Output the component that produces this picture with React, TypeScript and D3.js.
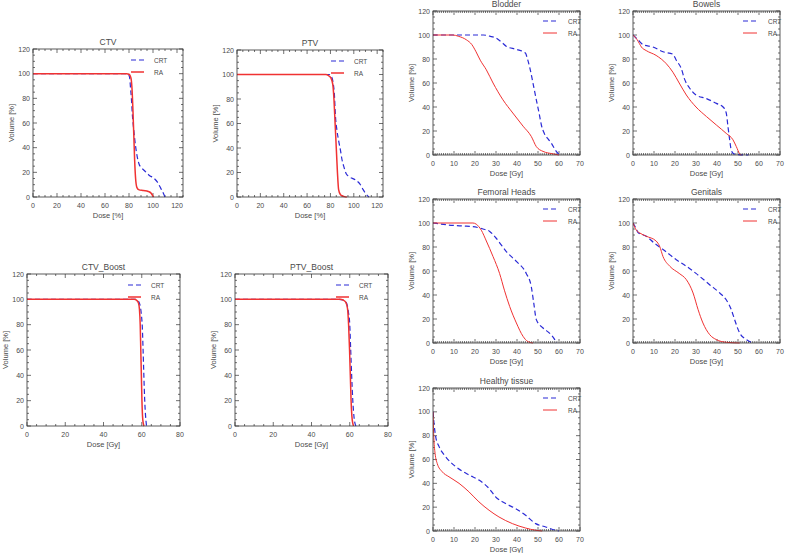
import * as d3 from "d3";

type Pt = [number, number];

// ---- data (dose, volume %) ----
const volumeTicks = [0, 20, 40, 60, 80, 100, 120];
const doseTicksPct = [0, 20, 40, 60, 80, 100, 120];
const doseTicksBoost = [0, 20, 40, 60, 80];
const doseTicksOar = [0, 10, 20, 30, 40, 50, 60, 70];
const legendLabels = ["CRT", "RA"];

const ctvCRT: Pt[] = [[0, 100], [79, 100], [80.5, 97], [81.3, 88], [82, 80], [82.7, 68], [84, 54], [85.5, 41], [86.8, 33], [88.3, 27], [90.5, 23.5], [92.5, 21.7], [96.7, 17.7], [101, 15], [103.7, 12], [106.5, 7], [108.8, 2.7], [110, 0]];
const ctvRA: Pt[] = [[0, 100], [78, 100], [80, 99.5], [81.5, 97], [82.5, 88], [83.3, 70], [84, 50], [84.7, 30], [85.5, 15], [86.5, 8], [88, 6], [92, 5.2], [96, 4.5], [98.5, 3], [99.5, 1.5], [100.5, 0]];

const ptvCRT: Pt[] = [[0, 100], [79, 100], [81, 98], [82.5, 92], [83.3, 85], [84.3, 66], [85.5, 55], [87, 46], [88.6, 38], [90, 30], [91.4, 25], [93.5, 19], [95.7, 16.8], [101.4, 14], [105.7, 10], [108, 6], [110, 3], [113, 0]];
const ptvRA: Pt[] = [[0, 100], [76, 100], [78.5, 99], [80.5, 97], [82, 92], [83, 80], [84, 60], [85, 40], [86, 20], [87, 6], [88.5, 2], [90, 1], [92, 0.3], [94, 0]];

const ctvBoostCRT: Pt[] = [[0, 100], [56.5, 100], [58, 99], [59, 96], [59.8, 88], [60.3, 78], [60.7, 60], [61.1, 40], [61.5, 22], [62, 8], [62.5, 0]];
const ctvBoostRA: Pt[] = [[0, 100], [56, 100], [57.5, 99], [58.3, 97], [58.8, 92], [59.2, 80], [59.5, 60], [59.8, 40], [60.1, 20], [60.4, 8], [60.8, 2], [61.2, 0]];

const ptvBoostCRT: Pt[] = [[0, 100], [54, 100], [56.5, 99.5], [58, 98], [59.3, 90], [60, 80], [60.5, 60], [61, 40], [61.6, 20], [62.3, 6], [63.2, 0]];
const ptvBoostRA: Pt[] = [[0, 100], [55, 100], [56.5, 99.5], [57.8, 98], [58.8, 93], [59.4, 80], [59.9, 60], [60.3, 40], [60.7, 20], [61.1, 8], [61.6, 2], [62, 0]];

const bladderCRT: Pt[] = [[0, 100], [10, 100], [20, 100], [24, 100], [27, 99], [30, 97.5], [33, 93.5], [35, 90.5], [39.7, 88], [44, 85], [45, 80], [46, 73.5], [47.6, 60], [49.2, 46], [50.5, 35], [51.6, 25], [53, 18], [54.5, 14], [56.3, 10], [58.7, 3], [60.3, 0]];
const bladderRA: Pt[] = [[0, 100], [9.5, 100], [12, 99], [15.9, 96], [18.5, 92], [20.5, 86], [22.5, 79], [25.4, 71], [28.6, 60], [33.3, 46], [38, 35], [42.9, 24], [46.8, 15.5], [49.2, 7], [52.4, 3], [57, 1], [60, 0]];

const bowelsCRT: Pt[] = [[0, 100], [2.4, 96], [4.8, 92], [9.5, 90], [14.3, 86], [19, 84], [20.6, 79], [23, 72], [24.6, 63], [27, 55.6], [30, 50], [35, 47], [39.7, 43], [42.9, 40], [44.4, 35], [45.2, 24], [46, 13], [46.8, 4], [48, 1], [50, 0.3], [55, 0]];
const bowelsRA: Pt[] = [[0, 100], [2, 96], [3, 93], [4, 90], [6.3, 87], [11, 83], [15.9, 76], [19, 69], [22, 60], [25.4, 50], [30, 40], [35, 32], [39.7, 25], [44.4, 18], [47.6, 12.7], [49.2, 7], [50.8, 1], [51.6, 0]];

const femoralCRT: Pt[] = [[0, 100], [9.5, 98], [14.3, 97.5], [19, 97], [23.8, 95], [27, 93], [30, 87.5], [35, 76], [39.7, 68], [44.4, 58], [46.8, 47], [48, 33], [49.2, 19.5], [52.4, 12.5], [55.6, 8], [57.9, 3], [58.7, 0]];
const femoralRA: Pt[] = [[0, 100], [19, 100], [20.6, 99], [23, 94], [25.4, 85], [28.6, 72], [31.7, 58], [34, 44], [36.5, 30.5], [39.7, 16.7], [42.9, 5.5], [45, 1.4], [47.6, 0]];

const genitalsCRT: Pt[] = [[0, 100], [1.6, 95], [2.4, 92], [6.3, 89], [10.3, 83], [14.3, 78], [20.6, 69.4], [25.4, 64], [30, 58], [36.5, 48.6], [41.3, 41.7], [44.4, 36], [46.8, 27.8], [48.4, 19.4], [50.8, 8.3], [54, 2.8], [57, 0]];
const genitalsRA: Pt[] = [[0, 100], [1.6, 94], [3.2, 91.7], [6.3, 89], [11, 85], [12.7, 80.5], [14.3, 72], [17.5, 64], [22, 58], [25.4, 52.8], [28.6, 41.7], [31, 27.8], [33.3, 16.7], [36.5, 7], [39.7, 2.8], [44.4, 0.6], [50.8, 0]];

const healthyCRT: Pt[] = [[0, 100], [0.5, 90], [1.3, 79], [2.9, 70.8], [6, 62.4], [10.8, 54], [17.1, 47], [21.9, 42.7], [26.7, 35.7], [29.8, 28.7], [34.6, 23], [39.4, 18.8], [44.1, 13.2], [48.9, 6.2], [53.7, 3.4], [58.4, 0.6], [60, 0]];
const healthyRA: Pt[] = [[0, 100], [0.3, 82], [1, 65], [2, 56.7], [4.4, 49.7], [7.6, 45.5], [12.4, 40], [17.1, 32.9], [21.9, 24.4], [26.7, 17.4], [31.4, 11.8], [37.8, 6.2], [44.1, 2.5], [48.9, 0.6], [52, 0]];

// ---- layout ----
type PanelDef = {
  id: string;
  title: string;
  unit: string;
  crt: Pt[];
  ra: Pt[];
  xMax: number;
  xTicks: number[];
  xMinor: number;
  box: [number, number, number, number]; // left, right, top, bottom
  wide: boolean; // left-column style legend
};

const panels: PanelDef[] = [
  { id: "ctv", title: "CTV", unit: "Dose [%]", crt: ctvCRT, ra: ctvRA, xMax: 125, xTicks: doseTicksPct, xMinor: 5, box: [33, 183, 49, 197], wide: true },
  { id: "ptv", title: "PTV", unit: "Dose [%]", crt: ptvCRT, ra: ptvRA, xMax: 125, xTicks: doseTicksPct, xMinor: 5, box: [237, 383, 50, 197], wide: true },
  { id: "ctvb", title: "CTV_Boost", unit: "Dose [Gy]", crt: ctvBoostCRT, ra: ctvBoostRA, xMax: 80, xTicks: doseTicksBoost, xMinor: 5, box: [27, 180, 274, 426], wide: true },
  { id: "ptvb", title: "PTV_Boost", unit: "Dose [Gy]", crt: ptvBoostCRT, ra: ptvBoostRA, xMax: 80, xTicks: doseTicksBoost, xMinor: 5, box: [235, 388, 274, 426], wide: true },
  { id: "bla", title: "Blodder", unit: "Dose [Gy]", crt: bladderCRT, ra: bladderRA, xMax: 70, xTicks: doseTicksOar, xMinor: 1, box: [433, 580, 11, 155], wide: false },
  { id: "bow", title: "Bowels", unit: "Dose [Gy]", crt: bowelsCRT, ra: bowelsRA, xMax: 70, xTicks: doseTicksOar, xMinor: 1, box: [633, 780, 11, 155], wide: false },
  { id: "fem", title: "Femoral Heads", unit: "Dose [Gy]", crt: femoralCRT, ra: femoralRA, xMax: 70, xTicks: doseTicksOar, xMinor: 1, box: [433, 580, 199, 343], wide: false },
  { id: "gen", title: "Genitals", unit: "Dose [Gy]", crt: genitalsCRT, ra: genitalsRA, xMax: 70, xTicks: doseTicksOar, xMinor: 1, box: [633, 780, 199, 343], wide: false },
  { id: "hea", title: "Healthy tissue", unit: "Dose [Gy]", crt: healthyCRT, ra: healthyRA, xMax: 70, xTicks: doseTicksOar, xMinor: 1, box: [433, 580, 388, 531], wide: false },
];

const BLUE = "#2b2bd6";
const RED = "#f03232";
const TEXT = "#4a4a4a";
const FONT = "'Liberation Sans', Arial, sans-serif";

function Panel({ p }: { p: PanelDef }) {
  const [left, right, top, bottom] = p.box;
  const x = d3.scaleLinear().domain([0, p.xMax]).range([left, right]);
  const y = d3.scaleLinear().domain([0, 120]).range([bottom, top]);
  const line = d3
    .line<Pt>()
    .x(d => x(d[0]))
    .y(d => y(d[1]))
    .curve(d3.curveMonotoneX);

  const xMinor = d3.range(0, p.xMax + 0.001, p.xMinor);
  const yMinor = d3.range(0, 120.001, 5);
  const isMajorX = (v: number) => p.xTicks.includes(v);
  const isMajorY = (v: number) => volumeTicks.includes(v);

  const lg = p.wide
    ? { x1: right - 52, x2: right - 39, tx: right - 29, y1: top + 11, y2: top + 23 }
    : { x1: right - 37, x2: right - 23, tx: right - 12, y1: top + 10, y2: top + 22 };

  return (
    <g>
      <defs>
        <clipPath id={`clip-${p.id}`}>
          <rect x={left} y={top - 1} width={right - left} height={bottom - top + 2} />
        </clipPath>
      </defs>
      <text x={(left + right) / 2} y={top - 4} textAnchor="middle" fontSize={8.5} fill={TEXT}>
        {p.title}
      </text>

      {/* ticks on all four sides, inward */}
      {xMinor.map(v => {
        const len = isMajorX(v) ? 4 : 2;
        return (
          <g key={`xt${v}`} stroke="#333" strokeWidth={0.7}>
            <line x1={x(v)} x2={x(v)} y1={bottom} y2={bottom - len} />
            <line x1={x(v)} x2={x(v)} y1={top} y2={top + len} />
          </g>
        );
      })}
      {yMinor.map(v => {
        const len = isMajorY(v) ? 4 : 2;
        return (
          <g key={`yt${v}`} stroke="#333" strokeWidth={0.7}>
            <line x1={left} x2={left + len} y1={y(v)} y2={y(v)} />
            <line x1={right} x2={right - len} y1={y(v)} y2={y(v)} />
          </g>
        );
      })}

      {p.xTicks.map(v => (
        <text key={`xl${v}`} x={x(v)} y={bottom + 10.5} textAnchor="middle" fontSize={7} fill={TEXT}>
          {v}
        </text>
      ))}
      {volumeTicks.map(v => (
        <text key={`yl${v}`} x={left - 3} y={y(v) + 2.5} textAnchor="end" fontSize={7} fill={TEXT}>
          {v}
        </text>
      ))}
      <text x={(left + right) / 2} y={bottom + 21} textAnchor="middle" fontSize={7.5} fill={TEXT}>
        {p.unit}
      </text>
      <text
        transform={`translate(${left - 19},${(top + bottom) / 2}) rotate(-90)`}
        textAnchor="middle"
        fontSize={7.5}
        fill={TEXT}
      >
        Volume [%]
      </text>

      <g clipPath={`url(#clip-${p.id})`} fill="none">
        <path d={line(p.crt) ?? ""} stroke={BLUE} strokeWidth={1.2} strokeDasharray="5,3" />
        <path d={line(p.ra) ?? ""} stroke={RED} strokeWidth={p.wide ? 1.5 : 1} />
      </g>

      <rect x={left} y={top} width={right - left} height={bottom - top} fill="none" stroke="#333" strokeWidth={0.8} />

      <line x1={lg.x1} x2={lg.x2} y1={lg.y1} y2={lg.y1} stroke={BLUE} strokeWidth={1.2} strokeDasharray="5,3" />
      <line x1={lg.x1} x2={lg.x2} y1={lg.y2} y2={lg.y2} stroke={RED} strokeWidth={p.wide ? 1.5 : 1} />
      <text x={lg.tx} y={lg.y1 + 2.5} fontSize={6.5} fill={TEXT}>{legendLabels[0]}</text>
      <text x={lg.tx} y={lg.y2 + 2.5} fontSize={6.5} fill={TEXT}>{legendLabels[1]}</text>
    </g>
  );
}

export default function App() {
  return (
    <svg
      width={785}
      height={553}
      style={{ position: "absolute", left: 0, top: 0, background: "#fff", fontFamily: FONT }}
    >
      <rect width={785} height={553} fill="#fff" />
      {panels.map(p => (
        <Panel key={p.id} p={p} />
      ))}
    </svg>
  );
}
